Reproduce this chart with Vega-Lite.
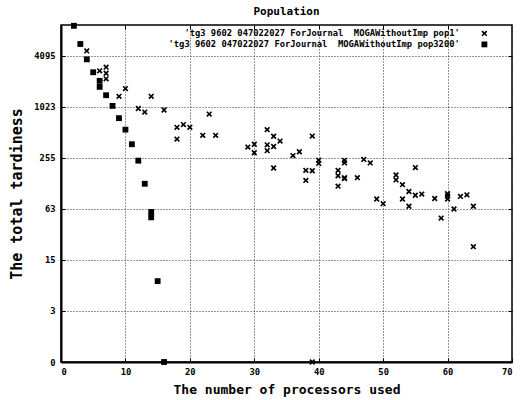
{
  "$schema": "https://vega.github.io/schema/vega-lite/v6.json",
  "autosize": {"type": "none"},
  "padding": {"left": 61, "top": 25, "right": 8, "bottom": 38},
  "width": 451,
  "height": 337,
  "background": "white",
  "title": {
    "text": "Population",
    "font": "DejaVu Sans Mono",
    "fontSize": 11,
    "fontWeight": "bold",
    "color": "black",
    "anchor": "middle",
    "offset": 6
  },
  "config": {
    "view": {"stroke": "black", "strokeWidth": 1.5},
    "legend": {"rowPadding": -3},
    "axis": {
      "labelFont": "DejaVu Sans Mono",
      "labelFontSize": 8.8,
      "labelFontWeight": "bold",
      "labelColor": "black",
      "titleFont": "DejaVu Sans Mono",
      "titleFontSize": 13,
      "titleFontWeight": "bold",
      "titleColor": "black",
      "domainColor": "black",
      "domainWidth": 2,
      "ticks": true,
      "tickColor": "black",
      "tickWidth": 1,
      "tickSize": -4,
      "grid": true,
      "gridColor": "#333333",
      "gridDash": [1, 2],
      "gridWidth": 1,
      "gridOpacity": 1
    }
  },
  "data": {
    "values": [
      {"series": "pop1", "processors": 4, "tardiness": 4700},
      {"series": "pop1", "processors": 6, "tardiness": 2735},
      {"series": "pop1", "processors": 7, "tardiness": 3020},
      {"series": "pop1", "processors": 7, "tardiness": 2560},
      {"series": "pop1", "processors": 7, "tardiness": 2200},
      {"series": "pop1", "processors": 9, "tardiness": 1367},
      {"series": "pop1", "processors": 10, "tardiness": 1687},
      {"series": "pop1", "processors": 12, "tardiness": 982},
      {"series": "pop1", "processors": 13, "tardiness": 890},
      {"series": "pop1", "processors": 14, "tardiness": 1367},
      {"series": "pop1", "processors": 16, "tardiness": 942},
      {"series": "pop1", "processors": 18, "tardiness": 588},
      {"series": "pop1", "processors": 18, "tardiness": 427},
      {"series": "pop1", "processors": 19, "tardiness": 633},
      {"series": "pop1", "processors": 20, "tardiness": 588},
      {"series": "pop1", "processors": 22, "tardiness": 473},
      {"series": "pop1", "processors": 23, "tardiness": 843},
      {"series": "pop1", "processors": 24, "tardiness": 473},
      {"series": "pop1", "processors": 29, "tardiness": 343},
      {"series": "pop1", "processors": 30, "tardiness": 371},
      {"series": "pop1", "processors": 30, "tardiness": 294},
      {"series": "pop1", "processors": 32, "tardiness": 552},
      {"series": "pop1", "processors": 32, "tardiness": 365},
      {"series": "pop1", "processors": 32, "tardiness": 311},
      {"series": "pop1", "processors": 33, "tardiness": 461},
      {"series": "pop1", "processors": 33, "tardiness": 349},
      {"series": "pop1", "processors": 33, "tardiness": 194},
      {"series": "pop1", "processors": 34, "tardiness": 404},
      {"series": "pop1", "processors": 36, "tardiness": 272},
      {"series": "pop1", "processors": 37, "tardiness": 302},
      {"series": "pop1", "processors": 38, "tardiness": 182},
      {"series": "pop1", "processors": 38, "tardiness": 138},
      {"series": "pop1", "processors": 39, "tardiness": 463},
      {"series": "pop1", "processors": 39, "tardiness": 180},
      {"series": "pop1", "processors": 39, "tardiness": 0},
      {"series": "pop1", "processors": 40, "tardiness": 240},
      {"series": "pop1", "processors": 40, "tardiness": 220},
      {"series": "pop1", "processors": 43, "tardiness": 182},
      {"series": "pop1", "processors": 43, "tardiness": 157},
      {"series": "pop1", "processors": 43, "tardiness": 118},
      {"series": "pop1", "processors": 44, "tardiness": 239},
      {"series": "pop1", "processors": 44, "tardiness": 223},
      {"series": "pop1", "processors": 44, "tardiness": 149},
      {"series": "pop1", "processors": 44, "tardiness": 145},
      {"series": "pop1", "processors": 46, "tardiness": 149},
      {"series": "pop1", "processors": 47, "tardiness": 245},
      {"series": "pop1", "processors": 48, "tardiness": 223},
      {"series": "pop1", "processors": 49, "tardiness": 83},
      {"series": "pop1", "processors": 50, "tardiness": 73},
      {"series": "pop1", "processors": 52, "tardiness": 160},
      {"series": "pop1", "processors": 52, "tardiness": 140},
      {"series": "pop1", "processors": 53, "tardiness": 123},
      {"series": "pop1", "processors": 53, "tardiness": 83},
      {"series": "pop1", "processors": 54, "tardiness": 102},
      {"series": "pop1", "processors": 54, "tardiness": 68},
      {"series": "pop1", "processors": 55, "tardiness": 196},
      {"series": "pop1", "processors": 55, "tardiness": 92},
      {"series": "pop1", "processors": 56, "tardiness": 95},
      {"series": "pop1", "processors": 58, "tardiness": 84},
      {"series": "pop1", "processors": 59, "tardiness": 49},
      {"series": "pop1", "processors": 60, "tardiness": 96},
      {"series": "pop1", "processors": 60, "tardiness": 90},
      {"series": "pop1", "processors": 60, "tardiness": 83},
      {"series": "pop1", "processors": 61, "tardiness": 63},
      {"series": "pop1", "processors": 62, "tardiness": 89},
      {"series": "pop1", "processors": 63, "tardiness": 93},
      {"series": "pop1", "processors": 64, "tardiness": 68},
      {"series": "pop1", "processors": 64, "tardiness": 22},
      {"series": "pop3200", "processors": 2, "tardiness": 9300},
      {"series": "pop3200", "processors": 3, "tardiness": 5670},
      {"series": "pop3200", "processors": 4, "tardiness": 3737},
      {"series": "pop3200", "processors": 5, "tardiness": 2629},
      {"series": "pop3200", "processors": 6, "tardiness": 2080},
      {"series": "pop3200", "processors": 6, "tardiness": 1766},
      {"series": "pop3200", "processors": 7, "tardiness": 1408},
      {"series": "pop3200", "processors": 8, "tardiness": 1053},
      {"series": "pop3200", "processors": 9, "tardiness": 755},
      {"series": "pop3200", "processors": 10, "tardiness": 552},
      {"series": "pop3200", "processors": 11, "tardiness": 371},
      {"series": "pop3200", "processors": 12, "tardiness": 237},
      {"series": "pop3200", "processors": 13, "tardiness": 126},
      {"series": "pop3200", "processors": 14, "tardiness": 58},
      {"series": "pop3200", "processors": 14, "tardiness": 50},
      {"series": "pop3200", "processors": 15, "tardiness": 8},
      {"series": "pop3200", "processors": 16, "tardiness": 0}
    ]
  },
  "resolve": {"axis": {"x": "independent", "y": "independent"}},
  "layer": [
    {
      "mark": {"type": "point", "filled": true, "color": "black", "opacity": 1, "size": 34},
      "encoding": {
        "x": {
          "field": "processors",
          "type": "quantitative",
          "scale": {"domain": [0, 70], "nice": false, "zero": false},
          "axis": {
            "title": "The number of processors used",
            "values": [0, 10, 20, 30, 40, 50, 60, 70],
            "format": "d",
            "labelPadding": 9,
            "titlePadding": 8
          }
        },
        "y": {
          "field": "tardiness",
          "type": "quantitative",
          "scale": {"type": "symlog", "constant": 1, "domain": [0, 9500], "nice": false},
          "axis": {
            "title": "The total tardiness",
            "titleFontSize": 15,
            "values": [0, 3, 15, 63, 255, 1023, 4095],
            "format": "d",
            "labelPadding": 10,
            "titlePadding": 9
          }
        },
        "shape": {
          "field": "series",
          "type": "nominal",
          "scale": {"domain": ["pop1", "pop3200"], "range": ["M-1,-0.6L-0.4,0L-1,0.6L-0.6,1L0,0.4L0.6,1L1,0.6L0.4,0L1,-0.6L0.6,-1L0,-0.4L-0.6,-1Z", "square"]},
          "legend": {
            "title": null,
            "orient": "none",
            "legendX": 419,
            "legendY": 4,
            "padding": 0,
            "rowPadding": -3,
            "labelAlign": "right",
            "labelOffset": -29,
            "labelLimit": 0,
            "labelFont": "DejaVu Sans Mono",
            "labelFontSize": 8.8,
            "labelFontWeight": "bold",
            "labelColor": "black",
            "symbolSize": 34,
            "symbolFillColor": "black",
            "symbolOpacity": 1,
            "labelExpr": "datum.label == 'pop1' ? \"'tg3 9602 047022027 ForJournal\u00a0 MOGAWithoutImp pop1'\" : \"'tg3 9602 047022027 ForJournal\u00a0 MOGAWithoutImp pop3200'\""
          }
        }
      }
    },
    {
      "mark": {"type": "point", "opacity": 0},
      "encoding": {
        "x": {
          "field": "processors",
          "type": "quantitative",
          "axis": {
            "orient": "top",
            "values": [10, 20, 30, 40, 50, 60],
            "labels": false,
            "grid": false,
            "domain": false,
            "title": null
          }
        },
        "y": {
          "field": "tardiness",
          "type": "quantitative",
          "axis": {
            "orient": "right",
            "values": [3, 15, 63, 255, 1023, 4095],
            "labels": false,
            "grid": false,
            "domain": false,
            "title": null
          }
        }
      }
    }
  ]
}
